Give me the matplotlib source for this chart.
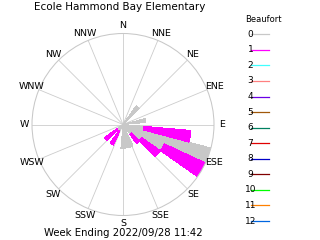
import numpy as np
import matplotlib
matplotlib.use("Agg")
import matplotlib.pyplot as plt

# ---- data ----
title = "Ecole Hammond Bay Elementary"
subtitle = "Week Ending 2022/09/28 11:42"
compass_labels = ["N", "NNE", "NE", "ENE", "E", "ESE", "SE", "SSE",
                  "S", "SSW", "SW", "WSW", "W", "WNW", "NW", "NNW"]
directions = [40, 80, 100, 110, 120, 130, 140, 160, 170, 180, 210, 230]   # degrees, bin centres
beaufort0 = [5.0, 5.0, 4.6, 20.0, 10.0, 5.0, 2.6, 5.2, 5.2, 5.2, 1.6, 1.6]  # % frequency
beaufort1 = [0.0, 0.0, 10.4, 0.0, 10.0, 5.0, 2.6, 0.0, 0.0, 0.0, 3.4, 3.4]
legend_levels = ["0", "1", "2", "3", "4", "5", "6", "7", "8", "9", "10", "11", "12"]
legend_colors = ["#c8c8c8", "#ff00ff", "#40ffff", "#ff8080", "#6a00e6", "#a0580a",
                 "#008060", "#e00000", "#0000c8", "#800000", "#00ff00", "#ff8000", "#0066e0"]
r_max = 20.0
bin_width = 10.0

W, H = 320, 240
fig = plt.figure(figsize=(W / 100, H / 100), dpi=100)
fig.patch.set_facecolor("white")

cx, cy, R = 123, 124.5, 91
ax = fig.add_axes([(cx - R) / W, (H - cy - R) / H, 2 * R / W, 2 * R / H], projection="polar")
ax.set_theta_zero_location("N")
ax.set_theta_direction(-1)
ax.set_ylim(0, r_max)
ax.grid(False)
ax.set_xticks([])
ax.set_yticks([])
ax.spines["polar"].set_color("#c8c8c8")
ax.spines["polar"].set_linewidth(0.75)
ax.patch.set_alpha(0)

# spokes
for i in range(16):
    th = np.deg2rad(i * 22.5)
    ax.plot([th, th], [0, r_max], color="#cccccc", lw=0.6, zorder=1)

theta = np.deg2rad(directions)
width = np.deg2rad(bin_width)
ax.bar(theta, beaufort0, width=width, bottom=0, color=legend_colors[0],
       edgecolor="none", zorder=2, antialiased=False)
ax.bar(theta, beaufort1, width=width, bottom=beaufort0, color=legend_colors[1],
       edgecolor="none", zorder=2, antialiased=False)

# compass labels
for i, lab in enumerate(compass_labels):
    th = np.deg2rad(i * 22.5)
    ax.text(th, r_max * 1.085, lab, ha="center", va="center", fontsize=6.8,
            clip_on=False, color="black")

fig.text(120 / W, 1 - 7 / H, title, ha="center", va="center", fontsize=7.5)
fig.text(123 / W, 1 - 233 / H, subtitle, ha="center", va="center", fontsize=7.3)

# legend
fig.text(263 / W, 1 - 20 / H, "Beaufort", ha="center", va="center", fontsize=6)
for k, (lab, col) in enumerate(zip(legend_levels, legend_colors)):
    y = 34.3 + k * 15.56
    fig.add_artist(plt.Line2D([251 / W, 269 / W], [1 - y / H, 1 - y / H],
                              color=col, lw=0.9, transform=fig.transFigure))
    fig.text(250.5 / W, 1 - y / H, lab, ha="center", va="center", fontsize=6.5)

fig.savefig("out.png", dpi=100, facecolor="white")
